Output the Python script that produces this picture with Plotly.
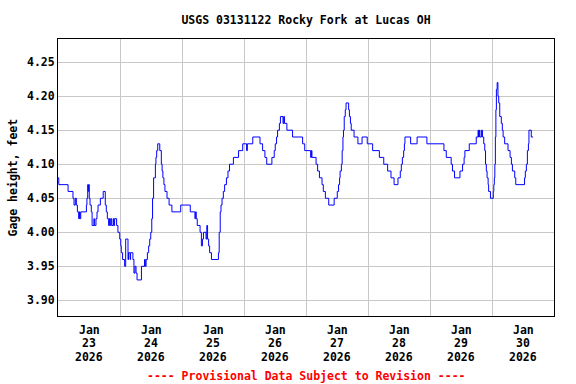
import pandas as pd
import plotly.graph_objects as go

# ---- data (hours since 2026-01-23 00:00, gage height in feet) ----
hours = [0.0, 0.3, 3.9, 5.8, 6.2, 6.7, 7.1, 7.5, 8.0, 8.3, 8.5, 8.8, 11.0, 11.2, 11.5, 11.7, 11.9,
         12.1, 12.4, 12.9, 13.2, 13.9, 14.1, 14.7, 15.1, 15.5, 16.4, 17.5, 18.3, 18.7, 19.1, 19.6,
         19.9, 20.2, 20.5, 20.8, 21.4, 21.6, 21.9, 22.7, 23.2, 23.9, 24.3, 24.5, 25.0, 25.8, 26.2,
         27.1, 27.3, 27.9, 28.1, 29.0, 29.4, 29.8, 30.2, 30.6, 32.3, 33.5, 33.8, 34.1, 34.6, 35.1,
         35.5, 35.9, 36.3, 36.6, 37.0, 37.7, 37.9, 38.2, 38.6, 39.4, 40.0, 40.3, 40.6, 41.0, 41.4,
         42.2, 43.0, 44.1, 47.5, 51.2, 53.0, 53.3, 53.5, 53.9, 55.0, 55.5, 55.9, 56.3, 57.3, 57.6,
         57.9, 58.3, 58.7, 59.4, 62.1, 62.4, 62.8, 63.1, 63.5, 64.0, 64.5, 65.2, 65.8, 66.4, 67.9,
         69.9, 71.5, 73.0, 73.3, 75.4, 78.2, 79.2, 80.1, 80.8, 82.8, 83.7, 84.1, 84.6, 85.0, 85.7,
         86.1, 87.1, 87.4, 87.7, 88.6, 90.8, 94.7, 95.5, 97.8, 98.1, 98.3, 99.9, 100.5, 101.2,
         102.2, 102.7, 103.5, 104.8, 106.9, 108.1, 108.6, 109.0, 109.2, 109.7, 110.0, 110.3, 110.5,
         110.8, 111.2, 111.5, 112.5, 112.8, 113.2, 113.5, 114.6, 116.1, 117.7, 119.7, 121.8, 124.4,
         126.1, 127.6, 128.9, 130.1, 131.6, 132.5, 132.9, 133.3, 133.8, 134.1, 134.3, 136.5, 139.0,
         142.8, 149.4, 150.3, 152.2, 152.7, 153.5, 155.6, 156.6, 157.2, 157.5, 159.2, 161.9, 162.6,
         162.8, 163.1, 163.3, 163.9, 164.3, 164.8, 165.2, 165.5, 165.8, 166.1, 166.5, 166.7, 167.4,
         168.5, 168.7, 168.9, 169.1, 169.3, 169.5, 169.7, 170.0, 170.3, 170.6, 171.0, 171.6, 172.0,
         172.3, 172.9, 174.2, 175.0, 175.5, 175.9, 176.8, 177.2, 180.6, 180.9, 181.3, 181.7, 182.1,
         182.3, 183.2, 183.9]
gage_ft = [4.08, 4.07, 4.06, 4.05, 4.04, 4.05, 4.04, 4.03, 4.02, 4.03, 4.02, 4.03, 4.04, 4.05, 4.07, 4.06, 4.07,
           4.05, 4.04, 4.03, 4.01, 4.02, 4.01, 4.02, 4.03, 4.04, 4.05, 4.06, 4.04, 4.03, 4.02, 4.01,
           4.02, 4.01, 4.02, 4.01, 4.02, 4.01, 4.02, 4.01, 4.00, 3.99, 3.98, 3.97, 3.96, 3.95, 3.99,
           3.96, 3.97, 3.96, 3.97, 3.96, 3.94, 3.95, 3.94, 3.93, 3.95, 3.96, 3.95, 3.96, 3.97, 3.98,
           3.99, 4.00, 4.02, 4.05, 4.08, 4.10, 4.11, 4.12, 4.13, 4.12, 4.10, 4.09, 4.08, 4.07, 4.06,
           4.05, 4.04, 4.03, 4.04, 4.03, 4.02, 4.03, 4.02, 4.01, 4.00, 3.98, 3.99, 4.00, 3.99, 4.01,
           3.99, 3.98, 3.97, 3.96, 3.97, 4.00, 4.03, 4.04, 4.05, 4.06, 4.07, 4.08, 4.09, 4.10, 4.11,
           4.12, 4.13, 4.12, 4.13, 4.14, 4.13, 4.12, 4.11, 4.10, 4.11, 4.12, 4.13, 4.14, 4.15, 4.16,
           4.17, 4.16, 4.17, 4.16, 4.15, 4.14, 4.13, 4.12, 4.11, 4.12, 4.11, 4.10, 4.09, 4.08,
           4.07, 4.06, 4.05, 4.04, 4.05, 4.06, 4.07, 4.08, 4.09, 4.10, 4.12, 4.14, 4.15,
           4.17, 4.18, 4.19, 4.18, 4.17, 4.16, 4.15, 4.14, 4.13, 4.14, 4.13, 4.12, 4.11,
           4.10, 4.09, 4.08, 4.07, 4.08, 4.09, 4.10, 4.11, 4.12, 4.13, 4.14, 4.13, 4.14,
           4.13, 4.12, 4.11, 4.10, 4.09, 4.08, 4.09, 4.10, 4.11, 4.12, 4.13, 4.14, 4.15,
           4.14, 4.15, 4.14, 4.15, 4.14, 4.13, 4.12, 4.10, 4.09, 4.08, 4.07, 4.06, 4.05,
           4.06, 4.07, 4.08, 4.10, 4.14, 4.18, 4.21, 4.22, 4.20, 4.19, 4.17, 4.16, 4.15,
           4.14, 4.13, 4.12, 4.11, 4.10, 4.09, 4.08, 4.07, 4.08, 4.09, 4.10, 4.12, 4.13,
           4.15, 4.14, 4.14]

label_month = ["Jan"] * 8
label_day = ["23", "24", "25", "26", "27", "28", "29", "30"]
label_year = ["2026"] * 8
y_ticks = [3.90, 3.95, 4.00, 4.05, 4.10, 4.15, 4.20, 4.25]

title_text = "USGS 03131122 Rocky Fork at Lucas OH"
y_title = "Gage height, feet"
footer = "---- Provisional Data Subject to Revision ----"

base = pd.Timestamp("2026-01-23 00:00")
times = [base + pd.Timedelta(hours=h) for h in hours]
label_pos = [base + pd.Timedelta(hours=12 + 24 * i) for i in range(len(label_day))]
grid_pos = [base + pd.Timedelta(hours=24 * (i + 1)) for i in range(len(label_day) - 1)]

FONT = "DejaVu Sans Mono"
FS = 11.5
L, R, T, B = 58, 22, 39, 68
PW, PH = 576 - L - R, 384 - T - B

fig = go.Figure()
fig.add_trace(go.Scatter(x=times, y=gage_ft, mode="lines", line=dict(color="#0000ff", width=1, shape="hv"),
                         showlegend=False, hoverinfo="skip"))

annotations = []
# three-line date labels under each day (month / day / year)
for pos, m, d, yr in zip(label_pos, label_month, label_day, label_year):
    for k, txt in enumerate([m, d, yr]):
        annotations.append(dict(text=txt, x=pos, xref="x", y=-(14 + 13.3 * k) / PH, yref="paper",
                                xanchor="center", yanchor="middle", showarrow=False, borderpad=0,
                                font=dict(family=FONT, size=FS, color="black", weight="bold")))
annotations.append(dict(text=y_title, xref="paper", yref="paper", x=(12 - L) / PW, y=0.5, textangle=-90,
                        xanchor="center", yanchor="middle", showarrow=False,
                        font=dict(family=FONT, size=FS, color="black", weight="bold")))
annotations.append(dict(text=footer, xref="paper", yref="paper", x=0.5, y=-60 / PH, xanchor="center",
                        yanchor="middle", showarrow=False,
                        font=dict(family=FONT, size=FS, color="#ff0000", weight="bold")))

fig.update_layout(
    width=576, height=384,
    margin=dict(l=L, r=R, t=T, b=B, autoexpand=False),
    paper_bgcolor="white", plot_bgcolor="white",
    font=dict(family=FONT, size=FS, color="black", weight="bold"),
    title=dict(text=title_text, x=(L + PW / 2) / 576, xanchor="center", y=1 - 20 / 384, yanchor="middle",
               xref="container", yref="container",
               font=dict(family=FONT, size=FS, color="black", weight="bold")),
    xaxis=dict(type="date", range=[base, base + pd.Timedelta(days=8)], automargin=False,
               tickmode="array", tickvals=label_pos, showticklabels=False,
               showgrid=False, ticks="", showline=True, linecolor="black", linewidth=1, mirror=True,
               zeroline=False,
               minor=dict(tickmode="array", tickvals=grid_pos, showgrid=True, gridcolor="#c8c8c8", gridwidth=1, ticks="")),
    yaxis=dict(range=[3.877, 4.284], tickmode="array", tickvals=y_ticks, tickformat=".2f", automargin=False,
               showgrid=True, gridcolor="#c8c8c8", gridwidth=1, ticks="",
               showline=True, linecolor="black", linewidth=1, mirror=True, zeroline=False,
               tickfont=dict(family=FONT, size=FS, weight="bold")),
    annotations=annotations,
)

fig.write_html("out.html", config={"displayModeBar": False, "staticPlot": True},
               post_script="document.body.style.margin='0';document.body.style.padding='0';")
